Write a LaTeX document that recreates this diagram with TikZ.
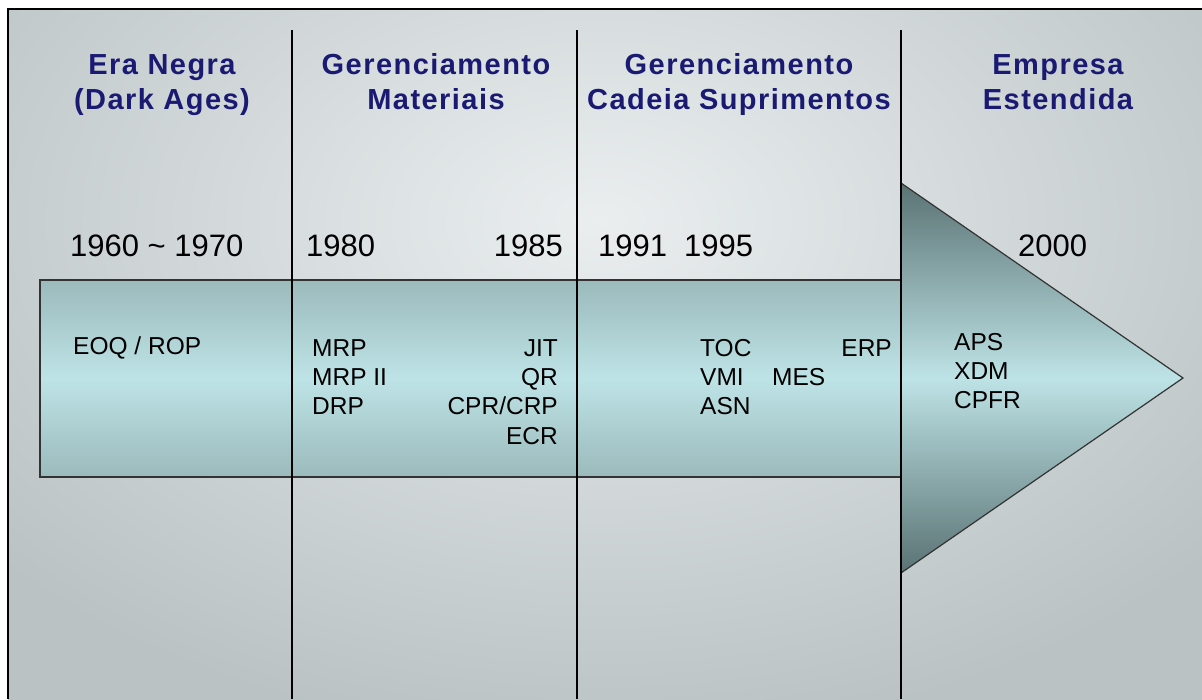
\documentclass[tikz,border=0pt]{standalone}
\usepackage{fontspec}
\setmainfont{Liberation Sans}
\definecolor{navy}{HTML}{1A1A72}
\definecolor{bgin}{HTML}{EAEEEF}
\definecolor{bgout}{HTML}{BAC2C4}
\definecolor{bodyedge}{HTML}{9BBABC}
\definecolor{bodymid}{HTML}{BEE3E6}
\definecolor{headedge}{HTML}{5A7273}
\definecolor{arrowline}{HTML}{333333}
\tikzset{
  hdr/.style={text=navy, font=\fontsize{29}{34}\selectfont\bfseries\addfontfeatures{LetterSpace=5}, anchor=base, inner sep=0pt},
  yr/.style={text=black, font=\fontsize{31}{35}\selectfont, inner sep=0pt},
  item/.style={text=black, font=\fontsize{24.5}{28}\selectfont, inner sep=0pt},
  vline/.style={draw=black, line width=2.6pt},
  frameline/.style={draw=black, line width=2pt},
  arrowpart/.style={draw=arrowline, line width=1.2pt}
}
\begin{document}
\begin{tikzpicture}[x=1pt,y=-1pt]
\useasboundingbox (0,0) rectangle (1202,699);
\fill[white] (0,0) rectangle (1202,699);
% background
\begin{scope}
  \clip (8,9) rectangle (1202,699);
  \shade[inner color=bgin, outer color=bgout] (-200,-300) rectangle (1400,740);
\end{scope}
% frame
\coordinate (fbl) at (8,699);
\coordinate (ftl) at (8,9);
\coordinate (ftr) at (1202,9);
\draw[frameline] (fbl) -- (ftl) -- (ftr);
% arrow
\path[arrowpart, top color=bodyedge, bottom color=bodyedge, middle color=bodymid] (40,280) rectangle (901,477);
\path[arrowpart, top color=headedge, bottom color=headedge, middle color=bodymid] (901,183) -- (1183,378) -- (901,573) -- cycle;
% vertical separators
\coordinate (v1t) at (292,30);  \coordinate (v1b) at (292,699);
\coordinate (v2t) at (577,30);  \coordinate (v2b) at (577,699);
\coordinate (v3t) at (901,30);  \coordinate (v3b) at (901,699);
\draw[vline] (v1t) -- (v1b);
\draw[vline] (v2t) -- (v2b);
\draw[vline] (v3t) -- (v3b);
% headers
\node[hdr] (h1a) at (162,74) {Era Negra};
\node[hdr] (h1b) at (162,109) {(Dark Ages)};
\node[hdr] (h2a) at (436,74) {Gerenciamento};
\node[hdr] (h2b) at (436,109) {Materiais};
\node[hdr] (h3a) at (739,74) {Gerenciamento};
\node[hdr] (h3b) at (739,109) {Cadeia Suprimentos};
\node[hdr] (h4a) at (1058,74) {Empresa};
\node[hdr] (h4b) at (1058,109) {Estendida};
% years
\node[yr, anchor=base west] (y1960) at (70,256) {1960 \textasciitilde{} 1970};
\node[yr, anchor=base west] (y1980) at (306,256) {1980};
\node[yr, anchor=base east] (y1985) at (563,256) {1985};
\node[yr, anchor=base west] (y1991) at (598,256) {1991};
\node[yr, anchor=base west] (y1995) at (684,256) {1995};
\node[yr, anchor=base west] (y2000) at (1018,256) {2000};
% items
\node[item, anchor=base west] (eoq) at (73,354) {EOQ / ROP};
\node[item, anchor=base west] (mrp) at (312,356) {MRP};
\node[item, anchor=base west] (mrp2) at (312,385) {MRP II};
\node[item, anchor=base west] (drp) at (312,414) {DRP};
\node[item, anchor=base east] (jit) at (558,356) {JIT};
\node[item, anchor=base east] (qr) at (558,385) {QR};
\node[item, anchor=base east] (cpr) at (558,414) {CPR/CRP};
\node[item, anchor=base east] (ecr) at (558,444) {ECR};
\node[item, anchor=base west] (toc) at (700,356) {TOC};
\node[item, anchor=base west] (vmi) at (700,385) {VMI};
\node[item, anchor=base west] (asn) at (700,414) {ASN};
\node[item, anchor=base west] (mes) at (772,385) {MES};
\node[item, anchor=base east] (erp) at (892,356) {ERP};
\node[item, anchor=base west] (aps) at (954,350) {APS};
\node[item, anchor=base west] (xdm) at (954,379) {XDM};
\node[item, anchor=base west] (cpfr) at (954,408) {CPFR};
\end{tikzpicture}
\end{document}
